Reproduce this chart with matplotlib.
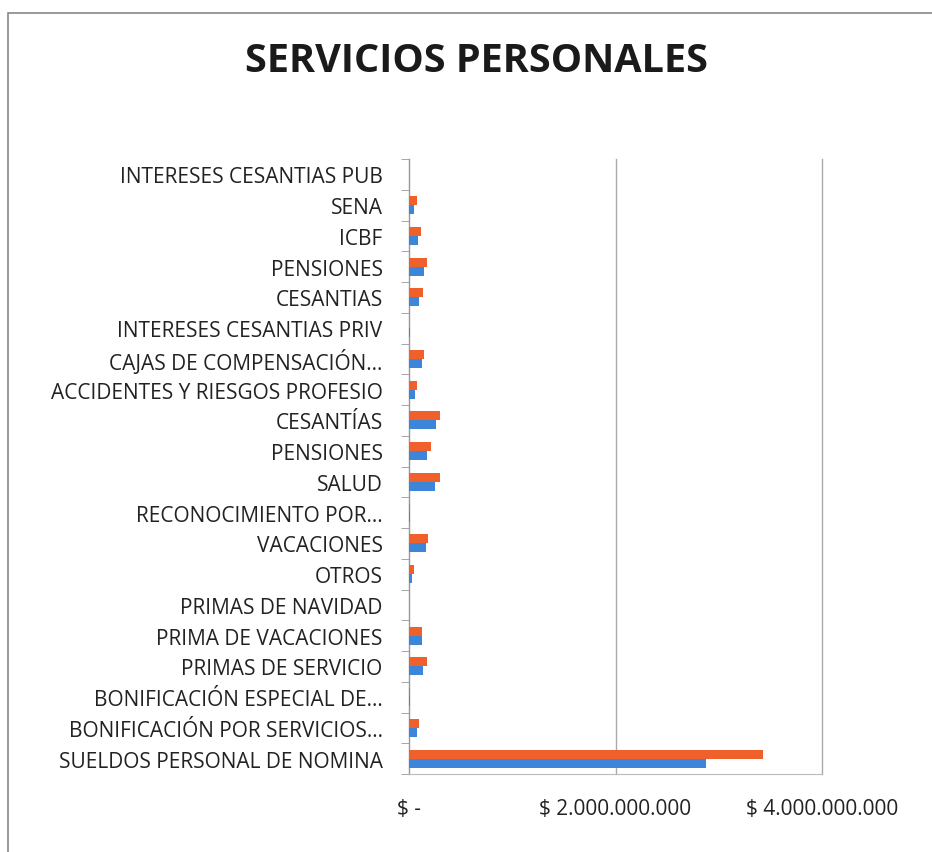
import matplotlib.pyplot as plt
import numpy as np
from matplotlib.patches import Rectangle

# categories from bottom to top
categorias = [
    "SUELDOS PERSONAL DE NOMINA",
    "BONIFICACIÓN POR SERVICIOS...",
    "BONIFICACIÓN ESPECIAL DE...",
    "PRIMAS DE SERVICIO",
    "PRIMA DE VACACIONES",
    "PRIMAS DE NAVIDAD",
    "OTROS",
    "VACACIONES",
    "RECONOCIMIENTO POR...",
    "SALUD",
    "PENSIONES",
    "CESANTÍAS",
    "ACCIDENTES Y RIESGOS PROFESIO",
    "CAJAS DE COMPENSACIÓN...",
    "INTERESES CESANTIAS PRIV",
    "CESANTIAS",
    "PENSIONES",
    "ICBF",
    "SENA",
    "INTERESES CESANTIAS PUB",
]

serie_azul = [2.88e9, 7.8e7, 5e6, 1.36e8, 1.26e8, 0, 3.2e7, 1.65e8, 1.0e7,
              2.49e8, 1.78e8, 2.62e8, 5.8e7, 1.23e8, 1.2e7, 1.0e8, 1.46e8,
              8.7e7, 5.1e7, 0]
serie_naranja = [3.43e9, 9.4e7, 1.0e7, 1.75e8, 1.29e8, 0, 4.9e7, 1.84e8, 1.2e7,
                 3.0e8, 2.17e8, 3.0e8, 7.4e7, 1.49e8, 4e6, 1.39e8, 1.75e8,
                 1.13e8, 7.8e7, 0]

ticks_x = [0, 2e9, 4e9]
etiquetas_x = ["$ -", "$ 2.000.000.000", "$ 4.000.000.000"]

AZUL = "#3D85D8"
NARANJA = "#F0602A"

plt.rcParams['font.family'] = ['Open Sans', 'DejaVu Sans']

fig = plt.figure(figsize=(9.32, 8.53), dpi=100)
ax = fig.add_axes([409/932, 1 - 775/853, (822 - 409)/932, (775 - 160)/853])

y = np.arange(len(categorias))
h = 0.29
ax.barh(y - h/2, serie_azul, height=h, color=AZUL, zorder=3)
ax.barh(y + h/2, serie_naranja, height=h, color=NARANJA, zorder=3)

ax.set_xlim(0, 4e9)
ax.set_ylim(-0.5, len(categorias) - 0.5)
ax.set_xticks(ticks_x)
ax.set_xticklabels(etiquetas_x, fontsize=15, color="#222222")
ax.set_yticks(y)
ax.set_yticklabels(categorias, fontsize=15, color="#222222")
ax.tick_params(axis='y', length=0, pad=19)
ax.tick_params(axis='x', length=0, pad=17)
ax.set_yticks(np.arange(-0.5, len(categorias), 1), minor=True)
ax.tick_params(axis='y', which='minor', length=6, color="#999999")

ax.grid(axis='x', color="#AAAAAA", linewidth=1, zorder=0)
for gl in ax.get_xgridlines():
    gl.set_clip_on(False)
for s in ['top', 'right']:
    ax.spines[s].set_visible(False)
ax.spines['left'].set_color("#999999")
ax.spines['bottom'].set_color("#BBBBBB")

fig.text(477/932, 1 - 62/853, "SERVICIOS PERSONALES", ha='center', va='center',
         fontsize=28.5, fontweight='bold', color="#1a1a1a")

fig.patches.append(Rectangle((8/932, -0.1), 1.2, 1 - 14/853 + 0.1,
                             transform=fig.transFigure, fill=False,
                             edgecolor="#888888", linewidth=1.2))

fig.savefig("out.png", dpi=100)
